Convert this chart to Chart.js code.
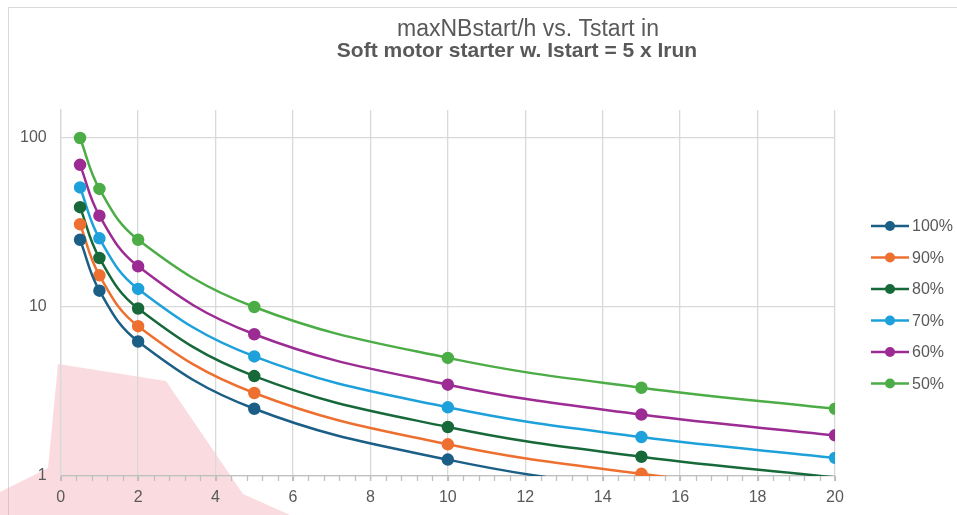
<!DOCTYPE html>
<html>
<head>
<meta charset="utf-8">
<script src="https://cdn.jsdelivr.net/npm/chart.js@4"></script>
<style>
  body { margin: 0; background: #fff; }
  #wrap { width: 957px; height: 515px; }
</style>
</head>
<body>
<div id="wrap"><canvas id="myChart" width="957" height="515"></canvas></div>
<script>
// start time in s (x values)
const tStart = [0.5, 1, 2, 5, 10, 15, 20];

// max number of starts per hour, per load level
const seriesLabels = ['100%', '90%', '80%', '70%', '60%', '50%'];
const load100 = [25, 12.5, 6.25, 2.5, 1.25, 0.83, 0.63];
const load90 = [30.9, 15.4, 7.7, 3.1, 1.54, 1.03, 0.77];
const load80 = [39, 19.5, 9.8, 3.9, 1.95, 1.3, 0.98];
const load70 = [51, 25.5, 12.8, 5.1, 2.55, 1.7, 1.28];
const load60 = [69.4, 34.7, 17.4, 6.9, 3.47, 2.31, 1.74];
const load50 = [100, 50, 25, 10, 5, 3.33, 2.5];
const seriesColors = ['#1b5e86', '#ee7031', '#17693a', '#1ea1db', '#9c2b94', '#4cad47'];

// axis ticks
const yTicks = [1, 10, 100];
const xMin = 0, xMax = 20, xMajor = 2, xMinor = 0.4;

const titleLine1 = 'maxNBstart/h vs. Tstart in';
const titleLine2 = 'Soft motor starter w. Istart = 5 x Irun';

const allSeries = [load100, load90, load80, load70, load60, load50];

const datasets = allSeries.map((vals, i) => ({
    label: seriesLabels[i],
    data: vals.map((v, j) => ({ x: tStart[j], y: v })),
    borderColor: seriesColors[i],
    backgroundColor: seriesColors[i],
    borderWidth: 2.5,
    pointRadius: ctx => (ctx.raw && ctx.raw.y < 1 ? 0 : 5),
    pointHoverRadius: 5,
    tension: 0.4
}));

// background, minor ticks, title and legend drawn by hand
const decorPlugin = {
    id: 'decor',
    beforeDraw(chart) {
        const c = chart.ctx;
        c.save();
        // chart frame
        c.strokeStyle = '#d9d9d9';
        c.lineWidth = 1;
        c.strokeRect(8.5, 7.5, 1000, 600);
        // faded watermark
        c.fillStyle = 'rgba(240, 150, 160, 0.33)';
        c.beginPath();
        c.moveTo(0, 492);
        c.lineTo(48, 468);
        c.lineTo(58, 364);
        c.lineTo(166, 381);
        c.lineTo(243, 494);
        c.lineTo(290, 515);
        c.lineTo(0, 515);
        c.closePath();
        c.fill();
        c.restore();
    },
    afterDraw(chart) {
        const c = chart.ctx;
        const xs = chart.scales.x;
        const bottom = chart.chartArea.bottom;
        c.save();
        // minor ticks under the x axis
        c.strokeStyle = '#bfbfbf';
        c.lineWidth = 1.3;
        const n = Math.round((xMax - xMin) / xMinor);
        for (let i = 0; i <= n; i++) {
            const px = Math.round(xs.getPixelForValue(xMin + i * xMinor)) + 0.5;
            c.beginPath();
            c.moveTo(px, bottom);
            c.lineTo(px, bottom + 5);
            c.stroke();
        }

        c.fillStyle = '#595959';
        c.textAlign = 'center';
        c.textBaseline = 'alphabetic';
        c.font = '23px "Liberation Sans", Arial, sans-serif';
        c.fillText(titleLine1, 528, 36);
        c.font = 'bold 21px "Liberation Sans", Arial, sans-serif';
        c.fillText(titleLine2, 517, 57);

        // legend: line + marker + label
        const x0 = 871, x1 = 909, y0 = 226, step = 31.5;
        chart.data.datasets.forEach((ds, i) => {
            const y = y0 + i * step;
            c.strokeStyle = ds.borderColor;
            c.lineWidth = 2.5;
            c.beginPath();
            c.moveTo(x0, y);
            c.lineTo(x1, y);
            c.stroke();
            c.fillStyle = ds.borderColor;
            c.beginPath();
            c.arc((x0 + x1) / 2, y, 5, 0, Math.PI * 2);
            c.fill();
            c.fillStyle = '#595959';
            c.textAlign = 'left';
            c.textBaseline = 'middle';
            c.font = '16px "Liberation Sans", Arial, sans-serif';
            c.fillText(ds.label, 912, y + 1);
        });
        c.restore();
    }
};

let ctx = document.getElementById('myChart').getContext('2d');
let myChart = new Chart(ctx, {
    type: 'line',
    data: { datasets: datasets },
    plugins: [decorPlugin],
    options: {
        responsive: false,
        animation: false,
        layout: { padding: { left: 6, right: 122, top: 110, bottom: 0 } },
        elements: { line: { capBezierPoints: false } },
        plugins: {
            legend: { display: false },
            title: { display: false },
            tooltip: { enabled: false }
        },
        scales: {
            x: {
                type: 'linear',
                min: xMin,
                max: xMax,
                grid: {
                    color: '#d9d9d9',
                    tickColor: '#bfbfbf',
                    tickLength: 5,
                    lineWidth: 1.3
                },
                border: { color: '#bfbfbf', width: 1.3 },
                ticks: {
                    stepSize: xMajor,
                    autoSkip: false,
                    maxRotation: 0,
                    padding: 9,
                    color: '#595959',
                    font: { size: 16, lineHeight: 1, family: '"Liberation Sans", Arial, sans-serif' }
                }
            },
            y: {
                type: 'logarithmic',
                min: 1,
                max: 146.5,
                afterBuildTicks: scale => {
                    scale.ticks = yTicks.map(v => ({ value: v }));
                },
                grid: { color: '#d9d9d9', drawTicks: false, lineWidth: 1.3 },
                border: { color: '#d9d9d9', width: 1.3 },
                ticks: {
                    padding: 14,
                    color: '#595959',
                    font: { size: 16, family: '"Liberation Sans", Arial, sans-serif' },
                    callback: v => String(v)
                }
            }
        }
    }
});
</script>
</body>
</html>
